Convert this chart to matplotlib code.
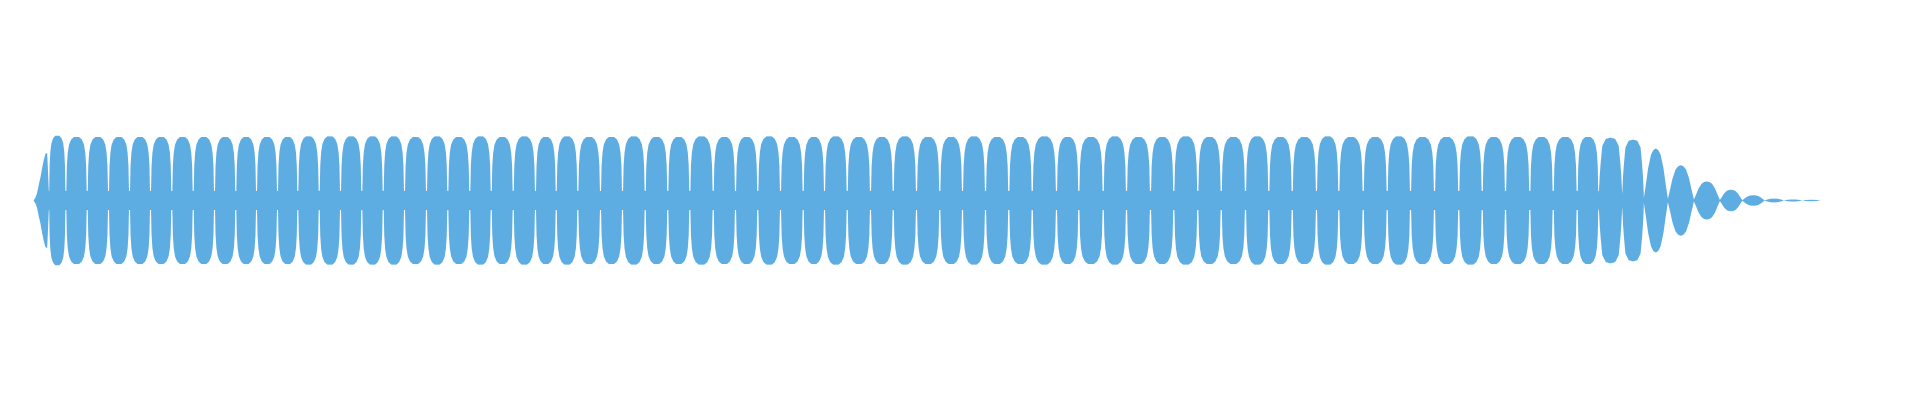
import numpy as np
import matplotlib
matplotlib.use("Agg")
import matplotlib.pyplot as plt

# beat boundaries (time offsets, arbitrary units)
beat_edges = [0, 15, 32, 53.4, 74.7, 95.7, 116.7, 138, 159.4, 180.7, 202, 222.7,
              243.7, 264, 285.4, 306.7, 328, 349.4, 370.7, 392.7, 414, 436, 457.4,
              479.4, 501.7, 522.4, 544, 566.7, 588.7, 611.4, 634, 656, 679.4, 701.7,
              724, 746.7, 769.4, 790.7, 813.4, 836.7, 859.4, 882.7, 906, 928.7, 951.7,
              975, 998.4, 1022.7, 1045, 1069.4, 1092.7, 1116.7, 1140, 1164, 1187.4,
              1211.7, 1235, 1258.4, 1282.7, 1305, 1329.4, 1353.4, 1376.7, 1400.7, 1425,
              1448.4, 1471.7, 1496, 1519.4, 1543.4, 1565, 1588.4, 1610, 1634, 1660,
              1686, 1708.4, 1730.7, 1750, 1768.4, 1786.7]

# peak amplitude of each beat (1.0 = clipped level)
beat_peaks = [0.75, 1.02,
              1.0, 1.0, 1.0, 1.0, 1.0, 1.0, 1.0, 1.0, 1.0, 1.0,
              1.0, 1.01, 1.01, 1.01, 1.01, 1.01, 1.0, 1.01, 1.0, 1.01,
              1.0, 1.01, 1.0, 1.01, 1.0, 1.0, 1.01, 1.0, 1.0, 1.01,
              1.0, 1.0, 1.01, 1.0, 1.0, 1.01, 1.0, 1.0, 1.01, 1.0,
              1.0, 1.01, 1.0, 1.0, 1.01, 1.0, 1.0, 1.01, 1.0, 1.0,
              1.01, 1.0, 1.0, 1.01, 1.0, 1.0, 1.01, 1.0, 1.0, 1.01,
              1.0, 1.0, 1.01, 1.0, 1.0, 1.0, 1.0,
              1.0, 0.99, 0.96, 0.82, 0.556, 0.30, 0.17, 0.083, 0.03, 0.016, 0.011]

# envelope shape within one beat
ramp_t = [0, 0.11, 0.22, 0.33, 0.44, 0.56, 0.67, 0.78, 0.89, 0.95, 1.0]
ramp_shape = [0.01, 0.06, 0.16, 0.33, 0.48, 0.69, 0.86, 0.98, 1.0, 0.6, 0.2]
clip_t = [0, 0.025, 0.05, 0.09, 0.15, 0.25, 0.38, 0.5, 0.62, 0.75, 0.85, 0.91, 0.95, 0.975, 1.0]
clip_shape = [0.15, 0.15, 0.55, 0.75, 0.88, 0.96, 1.0, 1.0, 1.0, 0.96, 0.88, 0.75, 0.55, 0.15, 0.15]
round_t = [0, 0.04, 0.08, 0.15, 0.3, 0.5, 0.7, 0.85, 0.92, 0.96, 1.0]
round_shape = [0.1, 0.4, 0.6, 0.87, 0.98, 1.0, 0.98, 0.87, 0.6, 0.4, 0.1]
tail_t = [0, 0.1, 0.18, 0.3, 0.4, 0.5, 0.6, 0.7, 0.82, 0.9, 1.0]
tail_shape = [0.04, 0.35, 0.62, 0.88, 0.97, 1.0, 0.97, 0.88, 0.62, 0.35, 0.04]

xs = []
env = []
for i, p in enumerate(beat_peaks):
    a, b = beat_edges[i], beat_edges[i + 1]
    if i == 0:
        pt, ps = ramp_t, ramp_shape
    elif p >= 1.0:
        pt, ps = clip_t, clip_shape
    elif p >= 0.9:
        pt, ps = round_t, round_shape
    else:
        pt, ps = tail_t, tail_shape
    xs.extend(a + np.array(pt) * (b - a))
    env.extend(p * np.array(ps))
xs = np.array(xs)
env = np.array(env)

fig = plt.figure(figsize=(19.2, 4), dpi=100)
ax = fig.add_axes([0, 0, 1, 1])
ax.fill_between(xs, -env, env, color='#5DADE2', linewidth=0)
ax.set_xlim(-33.3, 1886.7)
ax.set_ylim(-3.15, 3.15)
ax.axis('off')
plt.savefig("out.png", dpi=100)
